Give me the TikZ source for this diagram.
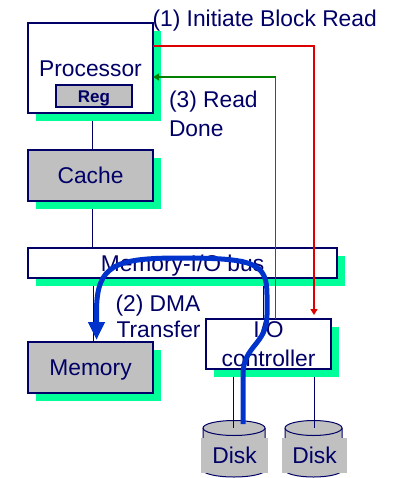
\documentclass[tikz,border=0pt]{standalone}
\usepackage{fontspec}
\setmainfont{Liberation Sans}
\usetikzlibrary{arrows.meta,shadows}
\definecolor{navy}{RGB}{0,0,102}
\definecolor{boxgray}{RGB}{192,192,192}
\definecolor{shgreen}{RGB}{0,255,153}
\definecolor{arrred}{RGB}{220,0,0}
\definecolor{arrgreen}{RGB}{0,128,0}
\definecolor{dmablue}{RGB}{0,51,204}
\newcommand\bigf{\fontsize{22.8}{29}\selectfont}
\pgfdeclarelayer{background}
\pgfsetlayers{background,main}
\begin{document}
\begin{tikzpicture}[x=1pt,y=-1pt,
  boxbase/.style={draw=navy, line width=1.2pt, fill=white, text=navy, font=\bigf,
    inner sep=0pt, outer sep=0pt,
    drop shadow={shadow xshift=8pt,shadow yshift=-8pt,fill=shgreen,opacity=1}},
  onel/.style={text height=16.2pt, text depth=0pt},
  wbox/.style={boxbase, onel},
  gbox/.style={boxbase, onel, fill=boxgray},
  lbl/.style={text=navy, font=\bigf, inner sep=0pt, outer sep=0pt},
  conn/.style={draw=navy, line width=1pt},
  disklbl/.style={fill=boxgray, text=navy, font=\bigf, inner sep=0pt, onel,
    minimum height=35pt},
  diskbody/.style={fill=boxgray, draw=navy, line width=1pt},
  redarr/.style={draw=arrred, line width=1.3pt, -{Triangle[length=6pt,width=7pt]}},
  greenarr/.style={draw=arrgreen, line width=1.3pt, -{Triangle[length=6pt,width=7pt]}},
  dma/.style={draw=dmablue, line width=5pt, -{Triangle[length=18pt,width=16pt]}}
]
\useasboundingbox (0,0) rectangle (400,478);

% boxes
\node[boxbase, minimum width=125pt, minimum height=90pt] (proc) at (90.5,68) {};
\node[lbl, anchor=base] (proctext) at (90.5,77) {Processor};
\node[draw=navy, line width=1.2pt, fill=boxgray, text=navy, inner sep=0pt,
      font=\bfseries\fontsize{17}{20}\selectfont, text height=12.2pt, text depth=0pt,
      minimum width=76pt, minimum height=22pt] (reg) at (94,96) {Reg};
\node[gbox, minimum width=125pt, minimum height=51pt] (cache) at (90.5,175.5) {Cache};
\node[wbox, minimum width=309pt, minimum height=30pt] (bus) at (182.5,263) {Memory-I/O bus};
\node[gbox, minimum width=125pt, minimum height=51pt] (mem) at (90.5,367.5) {Memory};
\node[boxbase, align=center, minimum width=125pt, minimum height=50pt,
      shadow xshift=7.5pt] (io) at (268.5,344) {I/O\\controller};

% labels
\node[lbl, anchor=base west] (l1) at (152.5,26.7) {(1) Initiate Block Read};
\node[lbl, anchor=base west] (l3a) at (169,108) {(3) Read};
\node[lbl, anchor=base west] (l3b) at (169,137) {Done};
\node[lbl, anchor=base west] (l2a) at (115.5,311) {(2) DMA};
\node[lbl, anchor=base west] (l2b) at (116.5,337) {Transfer};

\coordinate (d1top) at (233,428);
\coordinate (d2top) at (314,428);
\coordinate (dmastart) at (243,424);

\begin{pgfonlayer}{background}
  % disk 1
  \path[diskbody] (203,428) -- (203,470) arc[start angle=180,end angle=360,x radius=31pt,y radius=7pt] -- (265,428);
  \path[diskbody] (234,428) ellipse[x radius=31pt,y radius=7.5pt];
  \node[disklbl, minimum width=67pt] (disk1) at (234.5,455.5) {Disk};
  % disk 2
  \path[diskbody] (285,428) -- (285,470) arc[start angle=180,end angle=360,x radius=28.5pt,y radius=7pt] -- (342,428);
  \path[diskbody] (313.5,428) ellipse[x radius=28.5pt,y radius=7.5pt];
  \node[disklbl, minimum width=65pt] (disk2) at (314.5,455.5) {Disk};
  % connectors
  \draw[conn] ([xshift=1.5pt]proc.south) -- ([xshift=1.5pt]cache.north);
  \draw[conn] ([xshift=1.5pt]cache.south) -- ([xshift=1.5pt]cache.south |- bus.north);
  \draw[conn] ([xshift=2.5pt]mem.north |- bus.south) -- ([xshift=2.5pt]mem.north);
  \draw[conn] ([xshift=80.5pt]bus.south) -- ([xshift=80.5pt]bus.south |- io.north);
  \draw[conn] (io.south -| d1top) -- (d1top);
  \draw[conn] (io.south -| d2top) -- (d2top);
\end{pgfonlayer}

% control arrows
\draw[redarr] ([yshift=22pt]proc.east) -| ([xshift=45.5pt,yshift=4pt]io.north);
\draw[greenarr] ([xshift=7pt]io.north) |- ([yshift=-9pt]proc.east);

% DMA transfer
\draw[dma] (dmastart) -- (243,375) .. controls (243,345) and (267,345) .. (267,315)
  -- (267,295) .. controls (267,263) and (255,258) .. (180,258)
  .. controls (115,258) and (97,265) .. (96.5,310) -- ([xshift=6pt,yshift=2pt]mem.north);
\end{tikzpicture}
\end{document}
